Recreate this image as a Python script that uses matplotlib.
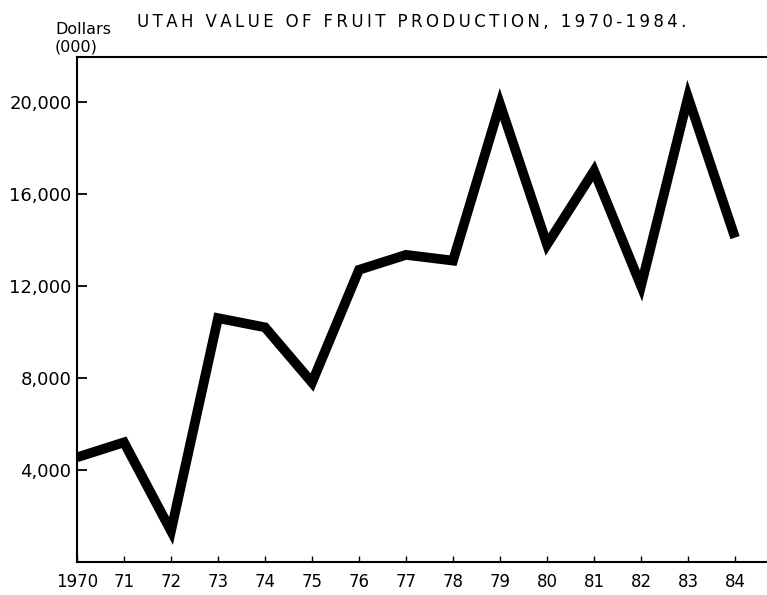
import matplotlib
matplotlib.use("Agg")
import matplotlib.pyplot as plt

years = [70, 71, 72, 73, 74, 75, 76, 77, 78, 79, 80, 81, 82, 83, 84]
values = [4550, 5200, 1350, 10600, 10200, 7800, 12700, 13350, 13100,
          19900, 13800, 17000, 12000, 20200, 14100]
year_labels = ["1970", "71", "72", "73", "74", "75", "76", "77", "78",
               "79", "80", "81", "82", "83", "84"]
y_ticks = [4000, 8000, 12000, 16000, 20000]
y_labels = ["4,000", "8,000", "12,000", "16,000", "20,000"]
title = "UTAH VALUE OF FRUIT PRODUCTION, 1970-1984."

plt.rcParams['font.family'] = ['DejaVu Sans']

fig = plt.figure(figsize=(7.67, 5.95), dpi=100)
ax = fig.add_axes([77/767, 1 - 562/595, 1 - 77/767, (562 - 57)/595])

ax.plot(years, values, color="black", linewidth=7,
        solid_joinstyle="miter", solid_capstyle="butt")

ax.set_xlim(70, 84.68)
ax.set_ylim(0, 21950)

ax.set_xticks(years)
ax.set_xticklabels(year_labels, fontsize=12)
ax.set_yticks(y_ticks)
ax.set_yticklabels(y_labels, fontsize=13)

ax.tick_params(axis="y", direction="in", length=7, width=1.3, pad=4)
ax.tick_params(axis="x", direction="in", length=4, width=1.0, pad=8)

for s in ["left", "top", "bottom"]:
    ax.spines[s].set_linewidth(1.5)
ax.spines["right"].set_visible(False)

spaced_title = "\u2009".join(title)
fig.text(412/767, 1 - 22/595, spaced_title,
         ha="center", va="center", fontsize=12)
fig.text(55/767, 1 - 29/595, "Dollars", ha="left", va="center", fontsize=11.5)
fig.text(55/767, 1 - 47/595, "(000)", ha="left", va="center", fontsize=11.5)

fig.savefig("out.png", dpi=100)
